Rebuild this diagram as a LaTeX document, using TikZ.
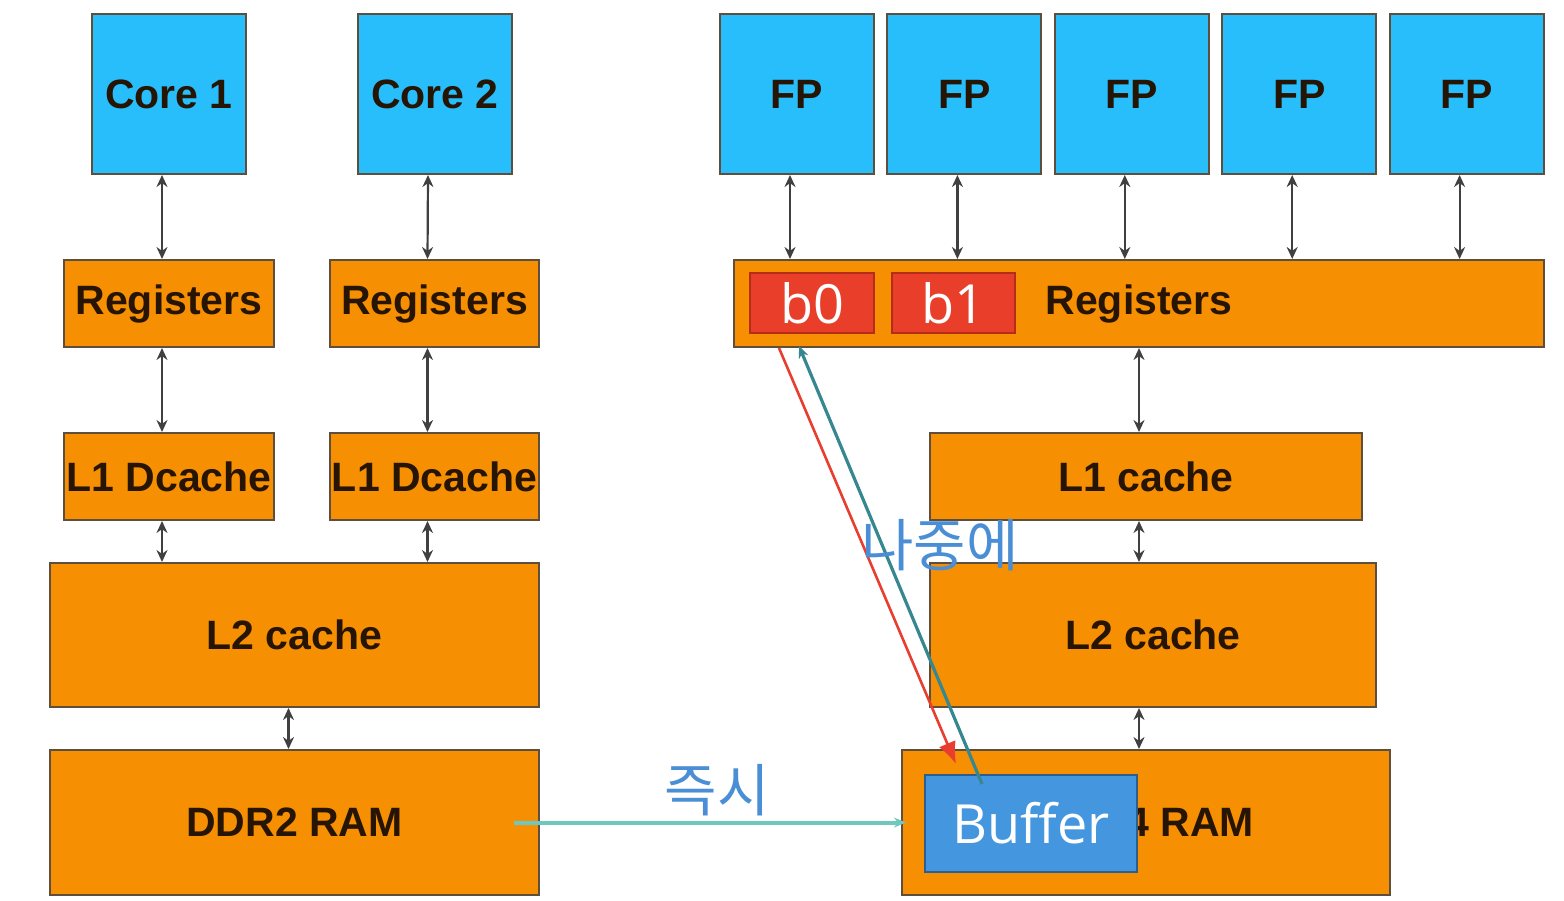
\documentclass[tikz,border=0pt]{standalone}
\usepackage{fontspec}
\setsansfont{Liberation Sans}
\newfontfamily\bfont{Open Sans}
\newfontfamily\krfont{Noto Sans CJK KR}
\usetikzlibrary{arrows.meta,calc,positioning}

\definecolor{coreblue}{RGB}{40,190,252}
\definecolor{memorange}{RGB}{246,143,2}
\definecolor{edge}{RGB}{95,78,60}
\definecolor{ink}{RGB}{38,20,4}
\definecolor{regred}{RGB}{232,62,42}
\definecolor{regedge}{RGB}{180,45,25}
\definecolor{bufblue}{RGB}{68,150,222}
\definecolor{bufedge}{RGB}{45,95,140}
\definecolor{noteblue}{RGB}{74,143,214}
\definecolor{tealline}{RGB}{55,135,145}
\definecolor{lightteal}{RGB}{110,200,192}
\definecolor{redline}{RGB}{232,62,48}

\begin{document}
\begin{tikzpicture}
 [
  x=0.5pt, y=-0.5pt,
  wh/.style 2 args={minimum width=#1*0.5pt, minimum height=#2*0.5pt},
  core/.style={draw=edge, fill=coreblue, line width=1pt, inner sep=0pt, text=ink,
               font=\sffamily\bfseries\fontsize{20.5}{24}\selectfont},
  mem/.style={core, fill=memorange},
  bank/.style={draw=regedge, fill=regred, line width=1pt, inner sep=0pt, text=white,
               font=\bfont\fontsize{27}{30}\selectfont},
  buffer/.style={draw=bufedge, fill=bufblue, line width=1pt, inner sep=0pt, text=white,
               font=\bfont\fontsize{27}{30}\selectfont},
  link/.style={{Stealth[length=6pt,width=5.5pt]}-{Stealth[length=6pt,width=5.5pt]},
               line width=1.1pt, draw=black!75},
  note/.style={text=noteblue, font=\krfont\fontsize{28.5}{32}\selectfont},
 ]
  \useasboundingbox (0,0) rectangle (1564,900);

  % left: two cores
  \node [core, wh={154}{160}] (c1) at (169,94) {Core 1};
  \node [core, wh={154}{160}] (c2) at (435,94) {Core 2};
  \node [mem, wh={210}{87}] (r1) at (169,303.5) {Registers};
  \node [mem, wh={209}{87}] (r2) at (434.5,303.5) {Registers};
  \node [mem, wh={210}{87}] (d1) at (169,476.5) {L1 Dcache};
  \node [mem, wh={209}{87}] (d2) at (434.5,476.5) {L1 Dcache};
  \node [mem, wh={489}{144}] (l2a) at (294.5,635) {L2 cache};
  \node [mem, wh={489}{145}] (ddr2) at (294.5,822.5) {DDR2 RAM};

  % right: FP units
  \foreach \i in {1,...,5}
    \node [core, wh={154}{160}] (fp\i) at ({797+167.4*(\i-1)},94) {FP};
  \node [mem, wh={810}{87}] (regR) at (1139,303.5) {Registers};
  \node [bank, wh={124}{60}] (b0) at (812,303) {b0};
  \node [bank, wh={123}{60}] (b1) at (953.5,303) {b1};
  \node [mem, wh={432}{87}] (l1c) at (1146,476.5) {L1 cache};
  \node [mem, wh={446}{144}] (l2b) at (1153,635) {L2 cache};
  \node [mem, wh={488}{145}] (ddr4) at (1146,822.5) {DDR4 RAM};
  \node [buffer, wh={212}{97}] (buf) at (1031,823.5) {Buffer};

  % links
  \foreach \a/\b in {c1/r1,r1/d1,c2/r2,r2/d2}
    \draw [link] ($(\a.south)+(-7,0)$) -- ($(\b.north)+(-7,0)$);
  \foreach \a in {d1,d2}
    \draw [link] ($(\a.south)+(-7,0)$) -- ($(\a.south |- l2a.north)+(-7,0)$);
  \draw [link] ($(l2a.south)+(-6,0)$) -- ($(ddr2.north)+(-6,0)$);
  \foreach \i in {1,...,5}
    \draw [link] ($(fp\i.south)+(-7,0)$) -- ($(fp\i.south |- regR.north)+(-7,0)$);
  \draw [link] ($(l1c.north |- regR.south)+(-7,0)$) -- ($(l1c.north)+(-7,0)$);
  \draw [link] ($(l1c.south)+(-7,0)$) -- ($(l1c.south |- l2b.north)+(-7,0)$);
  \draw [link] ($(ddr4.north |- l2b.south)+(-7,0)$) -- ($(ddr4.north)+(-7,0)$);

  % copies
  \draw [-{Stealth[length=6pt,width=5pt]}, line width=2pt, draw=lightteal]
    ($(ddr2.east)+(-26,0)$) -- ($(ddr4.west)+(5,0)$);
  \draw [-{Latex[length=11pt,width=9pt]}, line width=1.3pt, draw=redline]
    ($(b0.south west)+(30,14)$) -- ($(buf.north west)+(32,-10)$);
  \draw [-{Stealth[length=6pt,width=5pt]}, line width=1.6pt, draw=tealline]
    ($(buf.north west)+(58,10)$) -- ($(b0.south west)+(50,12)$);

  \node [note] (now) at (717,790) {즉시};
  \node [note] (later) at (940,545) {나중에};
\end{tikzpicture}
\end{document}
